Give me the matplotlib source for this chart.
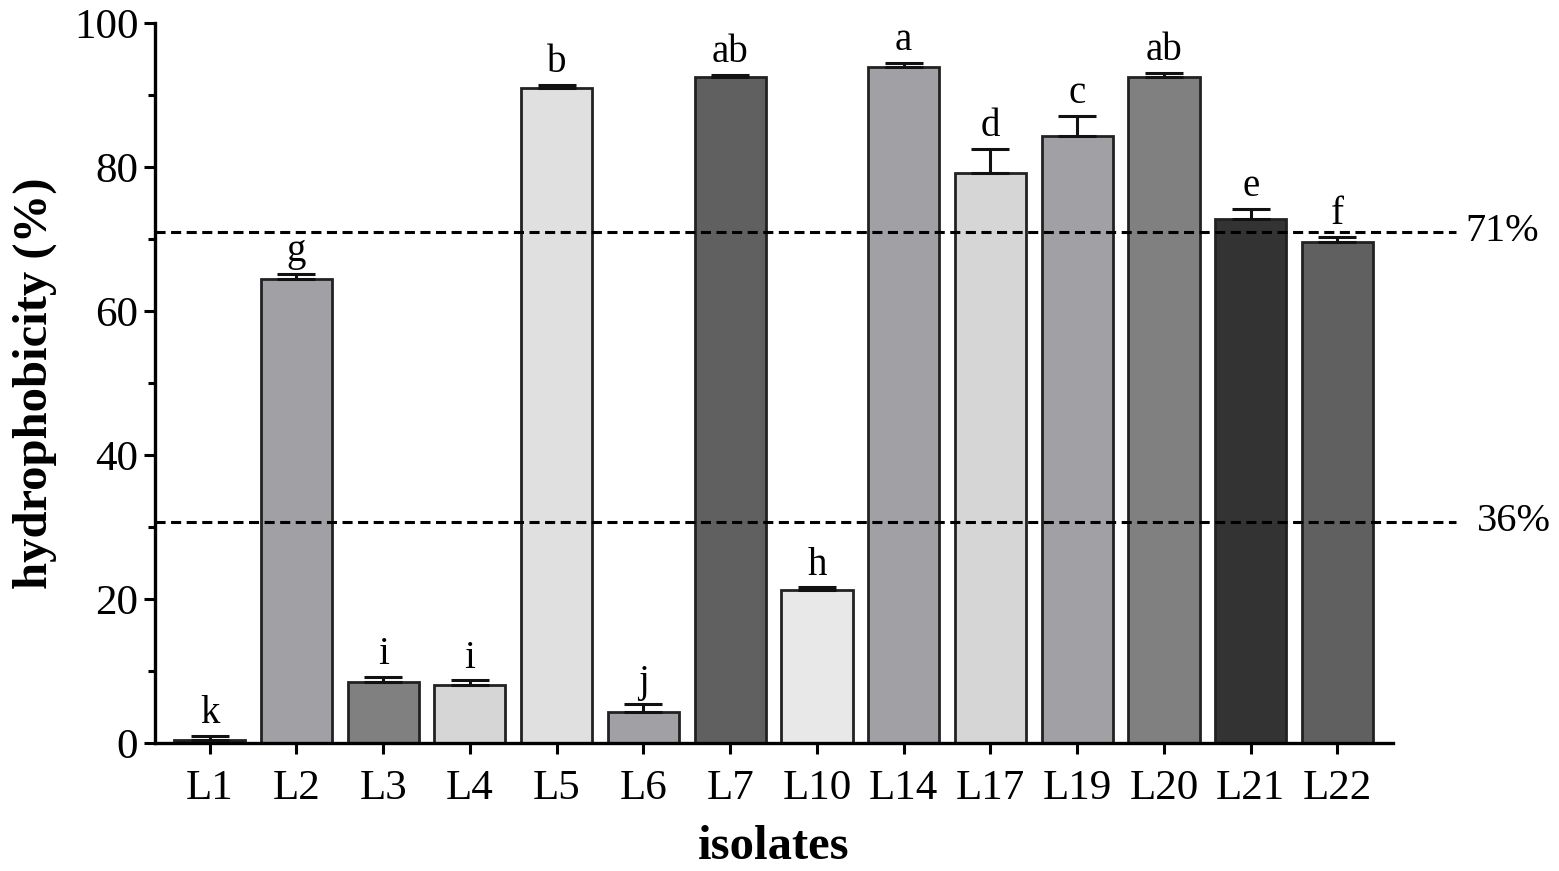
import matplotlib
matplotlib.use("Agg")
import matplotlib.pyplot as plt
import matplotlib.transforms as mtransforms
import numpy as np

isolates = ["L1", "L2", "L3", "L4", "L5", "L6", "L7", "L10", "L14", "L17", "L19", "L20", "L21", "L22"]
hydrophobicity = [0.4, 64.4, 8.5, 8.0, 91.0, 4.3, 92.5, 21.2, 93.9, 79.1, 84.3, 92.5, 72.8, 69.6]
sd = [0.6, 0.8, 0.7, 0.7, 0.4, 1.1, 0.3, 0.4, 0.6, 3.4, 2.8, 0.6, 1.4, 0.7]
letters = ["k", "g", "i", "i", "b", "j", "ab", "h", "a", "d", "c", "ab", "e", "f"]
bar_colors = ["#333333", "#a1a0a5", "#808080", "#d6d6d6", "#e0e0e0", "#a1a0a5", "#606060",
              "#e8e8e8", "#a1a0a5", "#d6d6d6", "#a1a0a5", "#808080", "#333333", "#606060"]
threshold_values = [71.0, 30.7]
threshold_labels = ["71%", "36%"]

plt.rcParams["font.family"] = ["Liberation Serif", "DejaVu Serif"]

fig = plt.figure(figsize=(15.59, 8.71), dpi=100)
ax = fig.add_axes([155/1559, 1 - 743/871, (1393 - 155)/1559, (743 - 23)/871])

x = np.arange(len(isolates))
ax.bar(x, hydrophobicity, width=0.82, color=bar_colors, edgecolor="#222222", linewidth=2.0, zorder=2)
ax.errorbar(x, hydrophobicity, yerr=[np.zeros(len(sd)), sd], fmt="none", ecolor="#111111",
            elinewidth=2.2, capsize=13.5, capthick=2.2, zorder=3)

for xi, h, s, lab in zip(x, hydrophobicity, sd, letters):
    ax.text(xi, h + s + 0.5, lab, ha="center", va="bottom", fontsize=28, color="black", zorder=4)

x_left, x_right = -0.63, 13.64
ax.set_xlim(x_left, x_right)
ax.set_ylim(0, 100)

blend = mtransforms.blended_transform_factory(fig.transFigure, ax.transData)
label_left_px = [1465, 1477]
for val, lab, lx in zip(threshold_values, threshold_labels, label_left_px):
    ax.plot([x_left, 14.37], [val, val], ls=(0, (3.3, 1.8)), color="black", lw=2.2,
            clip_on=False, zorder=5)
    ax.text(lx / 1559, val, lab, transform=blend, ha="left", va="center", fontsize=29,
            clip_on=False)

ax.set_yticks(np.arange(0, 101, 20))
ax.set_yticks(np.arange(10, 100, 20), minor=True)
ax.set_xticks(x)
ax.set_xticklabels(isolates)
ax.tick_params(axis="both", which="major", labelsize=31, width=2.2, length=8, color="black")
ax.tick_params(axis="y", which="minor", width=2.2, length=5)
ax.tick_params(axis="x", pad=11)
ax.tick_params(axis="y", pad=4)

for side in ["top", "right"]:
    ax.spines[side].set_visible(False)
for side in ["left", "bottom"]:
    ax.spines[side].set_linewidth(2.4)

ax.set_xlabel("isolates", fontsize=35, fontweight="bold", labelpad=12)
ax.set_ylabel("hydrophobicity (%)", fontsize=35, fontweight="bold", labelpad=12)

fig.savefig("out.png", dpi=100)
